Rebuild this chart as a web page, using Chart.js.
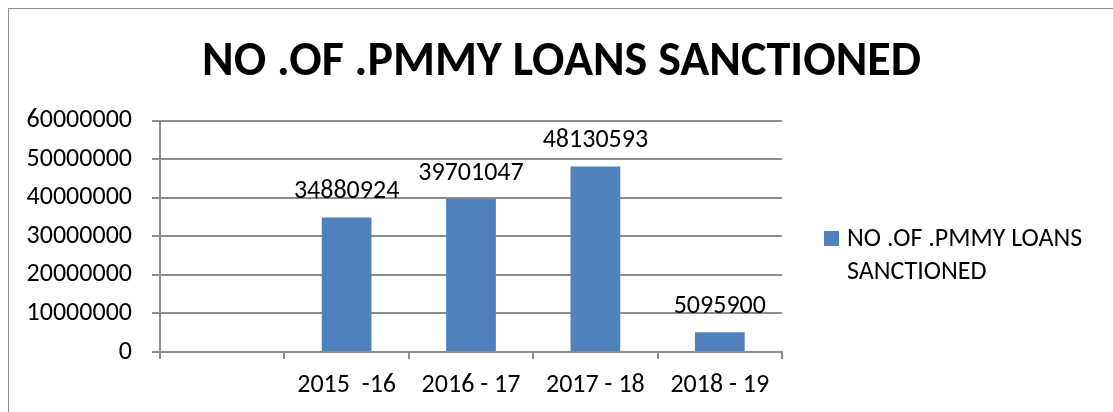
<!DOCTYPE html>
<html lang="en">
<head>
<meta charset="UTF-8">
<title>PMMY Loans Sanctioned</title>
<script src="https://cdn.jsdelivr.net/npm/chart.js"></script>
<style>
  html, body { margin: 0; padding: 0; background: #fff; }
  #wrap { width: 1113px; height: 412px; }
</style>
</head>
<body>
<div id="wrap"><canvas id="loanChart"></canvas></div>
<script>
const years = ['', '2015  -16', '2016 - 17', '2017 - 18', '2018 - 19'];
const loansSanctioned = [null, 34880924, 39701047, 48130593, 5095900];
const seriesName = 'NO .OF .PMMY LOANS SANCTIONED';
const legendLines = ['NO .OF .PMMY LOANS', 'SANCTIONED'];
const yMax = 60000000;
const yStep = 10000000;

const FONT = 'Carlito, Lato, sans-serif';
const gray = '#8c8c8c';
const barBlue = '#4F81BD';

// white background and the outer frame of the chart object
const framePlugin = {
  id: 'frame',
  beforeDraw(chart) {
    const ctx = chart.ctx;
    ctx.save();
    ctx.fillStyle = '#fff';
    ctx.fillRect(0, 0, chart.width, chart.height);
    ctx.strokeStyle = gray;
    ctx.lineWidth = 1;
    ctx.strokeRect(8.5, 8.5, chart.width + 20, chart.height + 20);
    ctx.restore();
  }
};

// value printed above each bar
const valueLabels = {
  id: 'valueLabels',
  afterDatasetsDraw(chart) {
    const ctx = chart.ctx;
    const meta = chart.getDatasetMeta(0);
    ctx.save();
    ctx.font = `26px ${FONT}`;
    ctx.fillStyle = '#000';
    ctx.textAlign = 'center';
    ctx.textBaseline = 'alphabetic';
    meta.data.forEach((bar, i) => {
      const v = loansSanctioned[i];
      if (v == null) return;
      ctx.fillText(String(v), bar.x, bar.y - 19);
    });
    ctx.restore();
  }
};

// a layout box on the right that holds the legend (text wraps over two lines)
const sideLegend = {
  id: 'sideLegend',
  beforeInit(chart) {
    Chart.layouts.addBox(chart, {
      position: 'right',
      weight: 0,
      fullSize: false,
      options: {},
      left: 0, top: 0, right: 0, bottom: 0, width: 0, height: 0,
      update(maxWidth, maxHeight) {
        this.width = 331;
        this.height = maxHeight;
      },
      isHorizontal() { return false; },
      getPadding() { return { left: 0, top: 0, right: 0, bottom: 0 }; },
      draw() {
        const ctx = chart.ctx;
        const x = this.left + 42;
        ctx.save();
        ctx.fillStyle = barBlue;
        ctx.fillRect(x, 231, 15, 15);
        ctx.fillStyle = '#000';
        ctx.font = `26px ${FONT}`;
        ctx.textBaseline = 'alphabetic';
        legendLines.forEach((line, i) => ctx.fillText(line, x + 23, 246 + i * 33));
        ctx.restore();
      }
    });
  }
};

new Chart(document.getElementById('loanChart'), {
  type: 'bar',
  data: {
    labels: years,
    datasets: [{
      label: seriesName,
      data: loansSanctioned,
      backgroundColor: barBlue,
      categoryPercentage: 1,
      barPercentage: 0.4
    }]
  },
  options: {
    responsive: true,
    maintainAspectRatio: false,
    animation: false,
    layout: { padding: { left: 10, top: 0, right: 0, bottom: 0 } },
    plugins: {
      legend: { display: false },
      tooltip: { enabled: false },
      title: {
        display: true,
        text: seriesName,
        color: '#000',
        font: { family: FONT, size: 48, weight: 'bold', lineHeight: 1.2 },
        padding: { top: 34, bottom: 29 }
      }
    },
    scales: {
      x: {
        grid: { drawOnChartArea: false, drawTicks: true, tickLength: 7, color: gray, lineWidth: 2, offset: true },
        border: { color: gray, width: 2 },
        ticks: { color: '#000', font: { family: FONT, size: 26 }, padding: 11, maxRotation: 0, autoSkip: false },
        afterFit(scale) { scale.height = 60; }
      },
      y: {
        min: 0,
        max: yMax,
        ticks: {
          stepSize: yStep,
          color: '#000',
          font: { family: FONT, size: 26 },
          padding: 20,
          callback: v => String(v)
        },
        grid: { color: gray, lineWidth: 2, tickLength: 8 },
        border: { color: gray, width: 2 },
        afterFit(scale) { scale.width = 150; }
      }
    }
  },
  plugins: [framePlugin, valueLabels, sideLegend]
});
</script>
</body>
</html>
